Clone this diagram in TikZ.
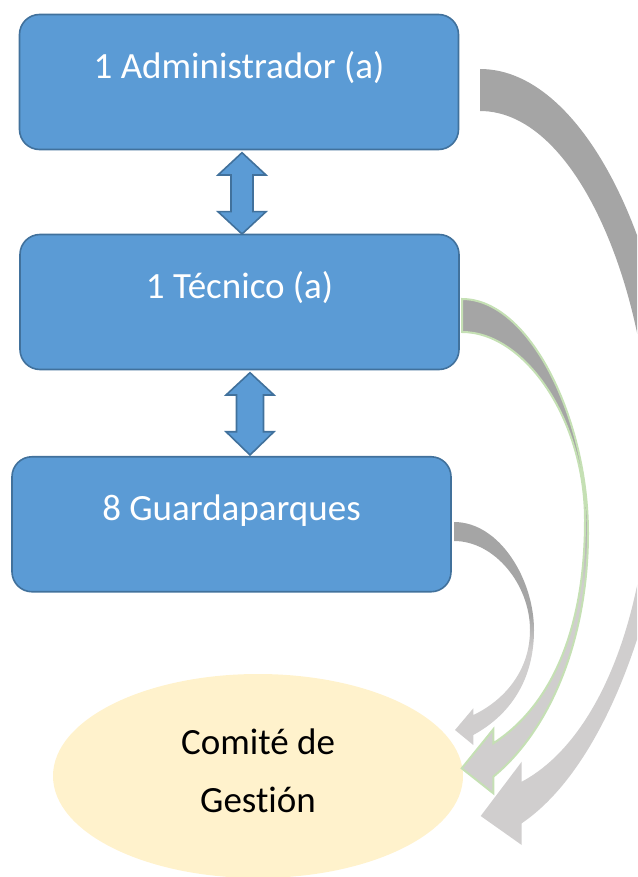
\documentclass[tikz,border=0pt]{standalone}
\usepackage{fontspec}
\setmainfont[RawFeature={-liga;-clig;-calt;-dlig}]{Carlito}
\usetikzlibrary{shapes.geometric,calc}
\definecolor{boxblue}{HTML}{5B9BD5}
\definecolor{boxedge}{HTML}{41719C}
\definecolor{ellfill}{HTML}{FFF2CC}
\definecolor{darkg}{HTML}{A5A5A5}
\definecolor{lightg}{HTML}{D0CECE}
\definecolor{greenedge}{HTML}{C5E0B4}
\pgfdeclareverticalshading{grayfade}{100bp}{color(0bp)=(lightg); color(46bp)=(lightg); color(54bp)=(darkg); color(100bp)=(darkg)}
\tikzset{
  box/.style={draw=boxedge, fill=boxblue, line width=1.6pt, rounded corners=20pt,
              minimum width=439pt, minimum height=135pt, inner sep=0pt},
  boxlbl/.style={text=white, font=\fontsize{37}{44}\selectfont, anchor=base, inner sep=0pt},
  elllbl/.style={text=black, font=\fontsize{37}{44}\selectfont, anchor=base, inner sep=0pt},
  dblarrow/.style={draw=boxedge, fill=boxblue, line width=1.6pt, line join=miter},
  curvedarrow/.style={shading=grayfade},
}
\begin{document}
\begin{tikzpicture}[x=1pt,y=-1pt]
\useasboundingbox (0,0) rectangle (637,877);
\clip (0,0) rectangle (637,877);

% boxes
\node[box] (admin) at (239,82) {};
\node[box] (tecnico) at (239.5,302) {};
\node[box] (guarda) at (231.5,524.25) {};
\node[boxlbl] (adminlbl) at (239,78.3) {1 Administrador (a)};
\node[boxlbl] (tecnicolbl) at (239.5,298) {1 Técnico (a)};
\node[boxlbl] (guardalbl) at (231.5,520.5) {8 Guardaparques};

% double arrows
\draw[dblarrow] (242,152.7) -- (266,175) -- (253,175) -- (253,211.7) -- (266,211.7)
  -- (242,234) -- (218,211.7) -- (231,211.7) -- (231,175) -- (218,175) -- cycle;
\draw[dblarrow] (250,372.7) -- (274,395) -- (263.5,395) -- (263.5,431.7) -- (274,431.7)
  -- (250,455) -- (226,431.7) -- (236.5,431.7) -- (236.5,395) -- (226,395) -- cycle;

% ellipse
\node[ellipse, fill=ellfill, minimum width=410pt, minimum height=204pt, inner sep=0pt] (comite) at (258,776) {};
\node[elllbl] (comite1) at (258,754) {Comité de};
\node[elllbl] (comite2) at (258,812) {Gest\kern0pt ión};

% big curved arrow (Administrador)
\shade[curvedarrow] (480,69) .. controls (590,69) and (672,270) .. (672,425)
  .. controls (672,570) and (615,760) .. (521.7,823.3)
  -- (521.7,845) -- (480.7,816) -- (521.7,761.7) -- (521.7,781.7)
  .. controls (600,740) and (650,610) .. (650,453)
  .. controls (650,300) and (580,111) .. (480,111) -- cycle;

% middle curved arrow (Tecnico)
\shadedraw[curvedarrow, draw=greenedge, line width=2pt, line join=miter]
  (462,299) .. controls (530,299) and (588,420) .. (588,533)
  .. controls (588,640) and (550,730) .. (493.3,776.7)
  -- (493.3,793.3) -- (461.7,768.3) -- (493.3,729.3) -- (493.3,743.3)
  .. controls (545,710) and (585,640) .. (585,520)
  .. controls (585,420) and (525,332) .. (462,332) -- cycle;

% small curved arrow (Guardaparques)
\shade[curvedarrow] (454,522) .. controls (500,522) and (534,580) .. (534,630)
  .. controls (534,680) and (510,715) .. (473.3,735)
  -- (473.3,745) -- (455,730) -- (473.3,708.3) -- (473.3,715)
  .. controls (505,700) and (530,670) .. (530,630)
  .. controls (530,585) and (495,541) .. (454,541) -- cycle;
\end{tikzpicture}
\end{document}
